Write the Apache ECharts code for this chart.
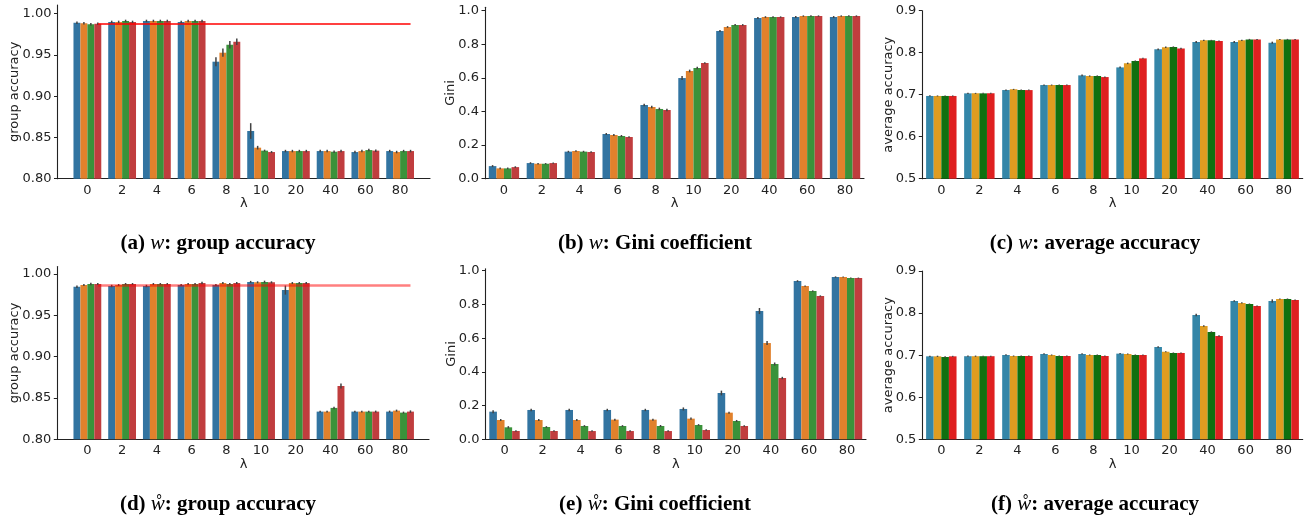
<!DOCTYPE html>
<html><head><meta charset="utf-8">
<script src="https://cdn.jsdelivr.net/npm/echarts@6/dist/echarts.min.js"></script>
<style>html,body{margin:0;padding:0;background:#fff}#c{width:1312px;height:521px}</style>
</head><body><div id="c"></div>
<script>
// ---- categories ----
const lambdas = ['0','2','4','6','8','10','20','40','60','80'];

// ---- tick labels ----
const ticksGroupAcc = [0.80, 0.85, 0.90, 0.95, 1.00];
const ticksGini = [0.0, 0.2, 0.4, 0.6, 0.8, 1.0];
const ticksAvgAcc = [0.5, 0.6, 0.7, 0.8, 0.9];

// ---- (a) w: group accuracy ----
const a1 = [0.9891, 0.9900, 0.9912, 0.9900, 0.9418, 0.8578, 0.8335, 0.8335, 0.8323, 0.8335];
const a2 = [0.9884, 0.9900, 0.9912, 0.9912, 0.9527, 0.8376, 0.8335, 0.8335, 0.8335, 0.8323];
const a3 = [0.9872, 0.9912, 0.9912, 0.9912, 0.9624, 0.8340, 0.8335, 0.8327, 0.8347, 0.8335];
const a4 = [0.9879, 0.9900, 0.9912, 0.9912, 0.9660, 0.8323, 0.8335, 0.8335, 0.8340, 0.8335];
const aErr1 = [0.0015, 0.0015, 0.0015, 0.0015, 0.0055, 0.0095, 0.0015, 0.0015, 0.0015, 0.0015];
const aErr2 = [0.0015, 0.0015, 0.0015, 0.0015, 0.0050, 0.0022, 0.0015, 0.0015, 0.0015, 0.0015];
const aErr3 = [0.0015, 0.0015, 0.0015, 0.0015, 0.0045, 0.0012, 0.0015, 0.0015, 0.0015, 0.0015];
const aErr4 = [0.0015, 0.0015, 0.0015, 0.0015, 0.0040, 0.0012, 0.0015, 0.0015, 0.0015, 0.0015];
const aRef = 0.9875;

// ---- (b) w: Gini coefficient ----
const b1 = [0.075, 0.093, 0.161, 0.266, 0.4385, 0.599, 0.879, 0.956, 0.962, 0.962];
const b2 = [0.0615, 0.089, 0.165, 0.260, 0.4266, 0.641, 0.903, 0.962, 0.968, 0.968];
const b3 = [0.0615, 0.089, 0.161, 0.254, 0.415, 0.659, 0.915, 0.962, 0.968, 0.968];
const b4 = [0.069, 0.093, 0.159, 0.248, 0.409, 0.6885, 0.915, 0.962, 0.968, 0.968];
const bErr1 = [0.006, 0.005, 0.005, 0.006, 0.008, 0.012, 0.006, 0.006, 0.006, 0.006];
const bErr2 = [0.005, 0.004, 0.005, 0.006, 0.008, 0.008, 0.005, 0.005, 0.004, 0.004];
const bErr3 = [0.005, 0.004, 0.005, 0.006, 0.008, 0.007, 0.005, 0.005, 0.004, 0.004];
const bErr4 = [0.005, 0.004, 0.004, 0.005, 0.008, 0.005, 0.005, 0.004, 0.004, 0.004];

// ---- (c) w: average accuracy ----
const c1 = [0.6970, 0.7032, 0.7111, 0.7230, 0.7460, 0.7650, 0.8080, 0.8254, 0.8254, 0.8238];
const c2 = [0.6970, 0.7032, 0.7127, 0.7230, 0.7444, 0.7746, 0.8127, 0.8294, 0.8294, 0.8317];
const c3 = [0.6970, 0.7032, 0.7110, 0.7230, 0.7444, 0.7800, 0.8135, 0.8294, 0.8317, 0.8317];
const c4 = [0.6970, 0.7032, 0.7110, 0.7230, 0.7420, 0.7865, 0.8100, 0.8278, 0.8317, 0.8317];
const cErr1 = [0.0015, 0.0015, 0.0015, 0.0015, 0.0018, 0.0020, 0.0020, 0.0022, 0.0025, 0.0025];
const cErr2 = [0.0012, 0.0012, 0.0012, 0.0012, 0.0015, 0.0018, 0.0018, 0.0015, 0.0015, 0.0012];
const cErr3 = [0.0012, 0.0012, 0.0012, 0.0012, 0.0015, 0.0015, 0.0015, 0.0012, 0.0012, 0.0012];
const cErr4 = [0.0012, 0.0012, 0.0012, 0.0012, 0.0015, 0.0012, 0.0015, 0.0012, 0.0012, 0.0012];

// ---- (d) w-ring: group accuracy ----
const d1 = [0.9846, 0.9855, 0.9855, 0.9867, 0.9867, 0.9905, 0.9806, 0.8335, 0.8335, 0.8335];
const d2 = [0.9867, 0.9867, 0.9879, 0.9879, 0.9891, 0.9900, 0.9891, 0.8335, 0.8335, 0.8347];
const d3 = [0.9879, 0.9879, 0.9879, 0.9879, 0.9879, 0.9905, 0.9891, 0.8380, 0.8335, 0.8323];
const d4 = [0.9879, 0.9879, 0.9879, 0.9891, 0.9891, 0.9900, 0.9891, 0.8645, 0.8335, 0.8335];
const dErr1 = [0.0015, 0.0015, 0.0015, 0.0012, 0.0012, 0.0012, 0.0055, 0.0012, 0.0012, 0.0012];
const dErr2 = [0.0012, 0.0012, 0.0012, 0.0012, 0.0012, 0.0012, 0.0012, 0.0012, 0.0012, 0.0012];
const dErr3 = [0.0015, 0.0012, 0.0012, 0.0012, 0.0012, 0.0015, 0.0012, 0.0015, 0.0012, 0.0012];
const dErr4 = [0.0012, 0.0012, 0.0012, 0.0015, 0.0012, 0.0012, 0.0012, 0.0030, 0.0012, 0.0015];
const dRef = 0.987;

// ---- (e) w-ring: Gini coefficient ----
const e1 = [0.164, 0.174, 0.174, 0.174, 0.174, 0.180, 0.2747, 0.761, 0.9387, 0.9625];
const e2 = [0.1146, 0.1146, 0.1146, 0.1166, 0.1166, 0.1225, 0.158, 0.571, 0.909, 0.9625];
const e3 = [0.0711, 0.073, 0.079, 0.079, 0.079, 0.085, 0.1087, 0.4466, 0.8794, 0.9565];
const e4 = [0.0494, 0.0494, 0.049, 0.049, 0.049, 0.055, 0.079, 0.3636, 0.8498, 0.9565];
const eErr1 = [0.009, 0.007, 0.007, 0.007, 0.007, 0.009, 0.014, 0.018, 0.005, 0.004];
const eErr2 = [0.006, 0.006, 0.006, 0.006, 0.006, 0.007, 0.006, 0.012, 0.004, 0.003];
const eErr3 = [0.007, 0.005, 0.005, 0.005, 0.006, 0.005, 0.006, 0.009, 0.004, 0.003];
const eErr4 = [0.005, 0.005, 0.004, 0.004, 0.004, 0.005, 0.005, 0.007, 0.004, 0.003];

// ---- (f) w-ring: average accuracy ----
const f1 = [0.6972, 0.6975, 0.7004, 0.7028, 0.7028, 0.7036, 0.7194, 0.7954, 0.8287, 0.8287];
const f2 = [0.6972, 0.6975, 0.6980, 0.7004, 0.7004, 0.7028, 0.7083, 0.7693, 0.8240, 0.8335];
const f3 = [0.6956, 0.6975, 0.6980, 0.6980, 0.7004, 0.7004, 0.7052, 0.7550, 0.8216, 0.8335];
const f4 = [0.6972, 0.6975, 0.6980, 0.6980, 0.6980, 0.7004, 0.7052, 0.7455, 0.8168, 0.8311];
const fErr1 = [0.0015, 0.0015, 0.0015, 0.0015, 0.0015, 0.0015, 0.0020, 0.0030, 0.0020, 0.0040];
const fErr2 = [0.0015, 0.0015, 0.0012, 0.0012, 0.0012, 0.0012, 0.0012, 0.0020, 0.0015, 0.0012];
const fErr3 = [0.0015, 0.0012, 0.0012, 0.0012, 0.0012, 0.0012, 0.0012, 0.0015, 0.0012, 0.0012];
const fErr4 = [0.0012, 0.0012, 0.0012, 0.0012, 0.0012, 0.0012, 0.0012, 0.0015, 0.0012, 0.0012];

// ---- palettes ----
const deepColors = ['#3274a1', '#e1812c', '#3a923a', '#c03d3e'];
const namedColors = ['#3486a8', '#df9c20', '#107010', '#df2020'];

const AX = '#222222';
const SANS = 'DejaVu Sans';
const SERIF = 'Liberation Serif';
const FS = 13;
const TFS = 21;

const option = { animation: false, backgroundColor: '#ffffff', grid: [], xAxis: [], yAxis: [], series: [], title: [] };

function yAxisDef(gi, p, visible) {
  return {
    gridIndex: gi, type: 'value', min: p.min, max: p.max,
    axisLine: { show: visible, onZero: false, lineStyle: { color: AX, width: 1.1 } },
    axisTick: { show: visible, length: 3.5, customValues: p.ticks, lineStyle: { color: AX, width: 1 } },
    axisLabel: { show: visible, customValues: p.ticks, margin: 6, fontFamily: SANS, fontSize: FS, color: AX,
      formatter: v => Number(v).toFixed(p.dec) },
    splitLine: { show: false },
    name: visible ? p.yName : '', nameLocation: 'middle', nameGap: p.nameGap, nameMoveOverlap: false,
    nameTextStyle: { fontFamily: SANS, fontSize: FS, color: AX }
  };
}

function addPanel(p) {
  let barGrid;
  if (p.outer) {
    const go = option.grid.length;
    option.grid.push(Object.assign({}, p.outer));
    option.xAxis.push({ gridIndex: go, type: 'value', min: 0, max: 1,
      axisLine: { show: true, onZero: false, lineStyle: { color: AX, width: 1.1 } },
      axisTick: { show: false }, axisLabel: { show: false }, splitLine: { show: false } });
    option.yAxis.push(yAxisDef(go, p, true));
    barGrid = option.grid.length;
    option.grid.push(Object.assign({}, p.bars));
    option.yAxis.push(yAxisDef(barGrid, p, false));
  } else {
    barGrid = option.grid.length;
    option.grid.push(Object.assign({}, p.bars));
    option.yAxis.push(yAxisDef(barGrid, p, true));
  }
  const axIdx = option.xAxis.length;
  option.xAxis.push({
    gridIndex: barGrid, type: 'category', data: lambdas,
    axisLine: { show: !p.outer, onZero: false, lineStyle: { color: AX, width: 1.1 } },
    axisTick: { show: false },
    axisLabel: { margin: 5, fontFamily: SANS, fontSize: FS, color: AX, interval: 0 },
    name: 'λ', nameLocation: 'middle', nameGap: 17,
    nameTextStyle: { fontFamily: SANS, fontSize: FS, color: AX }
  });
  const yIdx = option.yAxis.length - 1;
  p.vals.forEach((vals, k) => {
    const s = {
      type: 'bar', xAxisIndex: axIdx, yAxisIndex: yIdx, data: vals,
      barGap: '0%', barCategoryGap: '20%', silent: true, z: 2,
      itemStyle: { color: p.colors[k] }
    };
    if (p.ref && k === 3) {
      s.markLine = {
        silent: true, symbol: 'none', label: { show: false },
        lineStyle: { color: p.ref.color, width: p.ref.width, type: 'solid', opacity: 1 },
        data: [[{ coord: [lambdas[0], p.ref.value] }, { coord: [lambdas[lambdas.length - 1], p.ref.value] }]]
      };
    }
    option.series.push(s);
  });
  p.errs.forEach((errs, k) => {
    option.series.push({
      type: 'custom', xAxisIndex: axIdx, yAxisIndex: yIdx, silent: true, z: 3,
      data: p.vals[k].map((v, i) => [i, v, errs[i]]),
      encode: { x: 0, y: 1 },
      renderItem: (params, api) => {
        const idx = api.value(0), v = api.value(1), e = api.value(2);
        const band = api.size([1, 0])[0];
        const p1 = api.coord([idx, v + e]);
        const p2 = api.coord([idx, v - e]);
        const x = p1[0] + (-0.3 + 0.2 * k) * band;
        return { type: 'line', shape: { x1: x, y1: p1[1], x2: x, y2: p2[1] },
          style: { stroke: '#424242', lineWidth: 1.5 } };
      }
    });
  });
  option.title.push({
    text: p.title, left: p.titleX, top: p.titleY, textAlign: 'center', padding: 0,
    textStyle: { fontFamily: SERIF, fontWeight: 'bold', fontSize: TFS, color: '#000',
      rich: { i: { fontFamily: SERIF + ', DejaVu Serif', fontStyle: 'italic', fontWeight: 'normal', fontSize: TFS, color: '#000' } } }
  });
}

addPanel({
  outer: { left: 57.5, top: 5, width: 372.5, height: 173.7 },
  bars: { left: 70, top: 5, width: 347.5, height: 173.7 },
  min: 0.8, max: 1.0105, ticks: ticksGroupAcc, dec: 2, yName: 'group accuracy', nameGap: 36,
  vals: [a1, a2, a3, a4], errs: [aErr1, aErr2, aErr3, aErr4], colors: deepColors,
  ref: { value: aRef, color: '#ff0000', width: 1.5 },
  title: '(a) {i|w}: group accuracy', titleX: 218, titleY: 233
});
addPanel({
  bars: { left: 485, top: 7.3, width: 379, height: 171.4 },
  min: 0, max: 1.02, ticks: ticksGini, dec: 1, yName: 'Gini', nameGap: 27.5,
  vals: [b1, b2, b3, b4], errs: [bErr1, bErr2, bErr3, bErr4], colors: deepColors,
  title: '(b) {i|w}: Gini coefficient', titleX: 655, titleY: 233
});
addPanel({
  bars: { left: 922.3, top: 10.7, width: 380.4, height: 168 },
  min: 0.5, max: 0.9, ticks: ticksAvgAcc, dec: 1, yName: 'average accuracy', nameGap: 27,
  vals: [c1, c2, c3, c4], errs: [cErr1, cErr2, cErr3, cErr4], colors: namedColors,
  title: '(c) {i|w}: average accuracy', titleX: 1095, titleY: 233
});
addPanel({
  outer: { left: 57.3, top: 266.6, width: 371.7, height: 172.7 },
  bars: { left: 70, top: 266.6, width: 347.4, height: 172.7 },
  min: 0.8, max: 1.009, ticks: ticksGroupAcc, dec: 2, yName: 'group accuracy', nameGap: 36,
  vals: [d1, d2, d3, d4], errs: [dErr1, dErr2, dErr3, dErr4], colors: deepColors,
  ref: { value: dRef, color: 'rgba(255,0,0,0.5)', width: 2.5 },
  title: '(d) {i|ẘ}: group accuracy', titleX: 218, titleY: 494
});
addPanel({
  bars: { left: 485.5, top: 268.7, width: 380.5, height: 170.6 },
  min: 0, max: 1.012, ticks: ticksGini, dec: 1, yName: 'Gini', nameGap: 27.5,
  vals: [e1, e2, e3, e4], errs: [eErr1, eErr2, eErr3, eErr4], colors: deepColors,
  title: '(e) {i|ẘ}: Gini coefficient', titleX: 655, titleY: 494
});
addPanel({
  bars: { left: 922.3, top: 271, width: 380.4, height: 168.3 },
  min: 0.5, max: 0.9, ticks: ticksAvgAcc, dec: 1, yName: 'average accuracy', nameGap: 27,
  vals: [f1, f2, f3, f4], errs: [fErr1, fErr2, fErr3, fErr4], colors: namedColors,
  title: '(f) {i|ẘ}: average accuracy', titleX: 1095, titleY: 494
});

const chart = echarts.init(document.getElementById('c'), null, { renderer: 'canvas' });
chart.setOption(option);
</script></body></html>
